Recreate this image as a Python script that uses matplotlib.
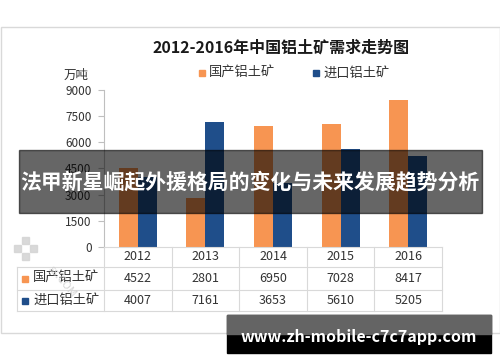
import numpy as np
import matplotlib
matplotlib.use('Agg')
import matplotlib.pyplot as plt
from matplotlib.patches import Rectangle

plt.rcParams['font.family'] = ['Noto Sans CJK SC', 'DejaVu Sans']

# data
years = ['2012', '2013', '2014', '2015', '2016']
domestic = [4522, 2801, 6950, 7028, 8417]
imported = [4007, 7161, 3653, 5610, 5205]
series_names = ['国产铝土矿', '进口铝土矿']
yticks = [0, 1500, 3000, 4500, 6000, 7500, 9000]

c_dom = '#F79552'
c_imp = '#1F4E8A'
W, H = 500, 362

def fx(px):
    return px / W

def fy(py):
    return 1 - py / H

fig = plt.figure(figsize=(5, 3.62), dpi=100)
fig.patch.set_facecolor('white')

# chart border
fig.patches.append(Rectangle((fx(0.5), fy(333)), fx(499), 306 / H, transform=fig.transFigure,
                             fill=False, ec='#D9D9D9', lw=1))

# title and unit
fig.text(fx(281), fy(48), '2012-2016年中国铝土矿需求走势图', ha='center', va='center',
         fontsize=11.5, fontweight='bold', color='#1a1a1a')
fig.text(fx(76), fy(75), '万吨', ha='center', va='center', fontsize=9, color='#333333')

# legend
for i, (name, col) in enumerate(zip(series_names, [c_dom, c_imp])):
    x0 = [202, 316][i]
    fig.patches.append(Rectangle((fx(x0 - 3), fy(76)), fx(6), 6 / H, transform=fig.transFigure,
                                 color=col))
    fig.text(fx(x0 + 7), fy(73), name, ha='left', va='center', fontsize=9.5, color='#333333')

# bar axes
left, right, top, bottom = 104, 442, 90, 247
ax = fig.add_axes([fx(left), fy(bottom), fx(right - left), (bottom - top) / H])
x = np.arange(len(years))
bw = 0.28
ax.bar(x - bw / 2, domestic, bw, color=c_dom)
ax.bar(x + bw / 2, imported, bw, color=c_imp)
ax.set_xlim(-0.5, len(years) - 0.5)
ax.set_ylim(0, 9000)
ax.set_yticks(yticks)
ax.set_yticklabels([str(t) for t in yticks], fontsize=8.5, color='#333333')
ax.set_xticks([])
for s in ['top', 'right', 'bottom']:
    ax.spines[s].set_visible(False)
ax.spines['left'].set_color('#BFBFBF')
ax.tick_params(axis='y', length=4, color='#BFBFBF', pad=5)
ax.patch.set_alpha(0)

# data table
col_w = (right - left) / len(years)
rows_y = [247, 267, 290, 311]
lc = '#D9D9D9'
for yy in rows_y:
    x_start = left if yy == rows_y[0] else 17
    fig.add_artist(plt.Line2D([fx(x_start), fx(right)], [fy(yy), fy(yy)], color=lc, lw=0.8))
for i in range(len(years) + 1):
    xx = left + i * col_w
    fig.add_artist(plt.Line2D([fx(xx), fx(xx)], [fy(rows_y[0]), fy(rows_y[-1])], color=lc, lw=0.8))
fig.add_artist(plt.Line2D([fx(17), fx(17)], [fy(rows_y[1]), fy(rows_y[-1])], color=lc, lw=0.8))

for i, yr in enumerate(years):
    cx = left + (i + 0.5) * col_w
    fig.text(fx(cx), fy(257), yr, ha='center', va='center', fontsize=9, color='#333333')
    fig.text(fx(cx), fy(278.5), str(domestic[i]), ha='center', va='center', fontsize=9, color='#333333')
    fig.text(fx(cx), fy(300.5), str(imported[i]), ha='center', va='center', fontsize=9, color='#333333')
for name, col, yy in zip(series_names, [c_dom, c_imp], [278.5, 300.5]):
    fig.patches.append(Rectangle((fx(22), fy(yy + 3)), fx(6), 6 / H, transform=fig.transFigure, color=col))
    fig.text(fx(33), fy(yy), name, ha='left', va='center', fontsize=9.5, color='#333333')

# watermark (faint)
for dx, dy in [(0, 0), (8, 8), (-8, 8), (0, 16)]:
    fig.patches.append(Rectangle((fx(22 + dx), fy(244 + dy)), fx(7), 7 / H, transform=fig.transFigure,
                                 color='#D5D5D5', alpha=0.9))
fig.text(fx(62), fy(282), 'ss.COM', rotation=-50, ha='center', va='center', fontsize=8,
         color='#D0D0D0', alpha=0.9)

# overlay band
fig.patches.append(Rectangle((fx(19), fy(213)), fx(463), 63 / H, transform=fig.transFigure,
                             color='black', alpha=0.6, zorder=10))
fig.text(fx(250), fy(182), '法甲新星崛起外援格局的变化与未来发展趋势分析', ha='center', va='center',
         fontsize=15, fontweight='bold', color='white', zorder=11)

# url banner
fig.patches.append(Rectangle((fx(227), fy(353)), fx(264), 38 / H, transform=fig.transFigure,
                             color='black', zorder=10))
fig.patches.append(Rectangle((fx(227), fy(334)), fx(264), 19 / H, transform=fig.transFigure,
                             color='#646464', zorder=10))
fig.text(fx(359), fy(337), 'www.zh-mobile-c7c7app.com', ha='center', va='center',
         fontsize=11.5, fontweight='bold', color='white', zorder=11)

fig.savefig('out.png', dpi=100)
